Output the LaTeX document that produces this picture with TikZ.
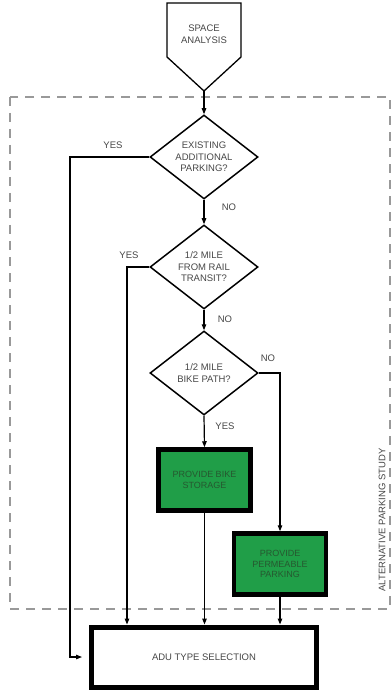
\documentclass[tikz,border=0pt]{standalone}
\usepackage{fontspec}
\setmainfont{Liberation Sans}
\usetikzlibrary{shapes.geometric,arrows.meta}
\definecolor{boxgreen}{RGB}{32,158,72}
\definecolor{greentext}{RGB}{38,88,48}
\definecolor{labelgray}{RGB}{70,70,70}

\begin{document}
\begin{tikzpicture}[x=1pt,y=-1pt,
  txt/.style={font=\fontsize{9.5}{11.5}\selectfont, text=labelgray, align=center},
  question/.style={txt, diamond, draw, line width=1.5pt, aspect=1.28, inner sep=0pt,
    minimum width=108pt, minimum height=84pt},
  greenbox/.style={txt, font=\fontsize{9}{10.5}\selectfont, text=greentext, draw, fill=boxgreen,
    line width=4.5pt, minimum width=92pt, minimum height=61pt},
  conn/.style={line width=1.2pt, -{Triangle[length=6pt,width=4.5pt]}},
  answer/.style={txt}]
\useasboundingbox (0,0) rectangle (391,692);
\begin{scope}[shift={(0,0)}]
\draw[black!40, line width=1.3pt, dash pattern=on 9pt off 7pt] (10,97) rectangle (390,609);
\node[txt, rotate=90] (study) at (382,520) {ALTERNATIVE PARKING STUDY};
\draw[line width=1.3pt] (167,3) -- (241,3) -- (241,57) -- (204,91) -- (167,57) -- cycle;
\node[txt] (space) at (204,34) {SPACE\\ANALYSIS};
\coordinate (spacetip) at (204,91);
\node[question] (parking) at (204,157) {EXISTING\\ADDITIONAL\\PARKING?};
\node[question] (rail) at (204,267) {1/2 MILE\\FROM RAIL\\TRANSIT?};
\node[question] (bike) at (204,373) {1/2 MILE\\BIKE PATH?};
\node[greenbox] (storage) at (204.5,480) {PROVIDE BIKE\\STORAGE};
\node[greenbox] (permeable) at (280,564) {PROVIDE\\PERMEABLE\\PARKING};
\node[txt, draw=black, line width=5pt, minimum width=225pt, minimum height=60pt] (adu) at (204,657) {ADU TYPE SELECTION};
\coordinate (parkingyes) at (70,157);
\coordinate (railyes) at (127,267);
\draw[conn] (spacetip) -- (parking.north);
\draw[conn] (parking.south) -- (rail.north);
\draw[conn] (rail.south) -- (bike.north);
\draw[conn] (bike.south) -- (storage.north);
\draw[conn] (parking.west) -- (parkingyes) |- ([xshift=-7pt]adu.west);
\draw[conn] (rail.west) -- (railyes) -- (railyes |- adu.north);
\draw[conn] (bike.east) -| (permeable.north);
\draw[conn] (storage.south) -- (adu.north -| storage.south);
\draw[conn] (permeable.south) -- (adu.north -| permeable.south);
\node[answer] (parkingyestext) at (113,145) {YES};
\node[answer] (parkingnotext) at (229,207) {NO};
\node[answer] (railyestext) at (129,255) {YES};
\node[answer] (railnotext) at (225,319) {NO};
\node[answer] (bikenotext) at (268,358) {NO};
\node[answer] (bikeyestext) at (225,426) {YES};
\end{scope}
\end{tikzpicture}
\end{document}
